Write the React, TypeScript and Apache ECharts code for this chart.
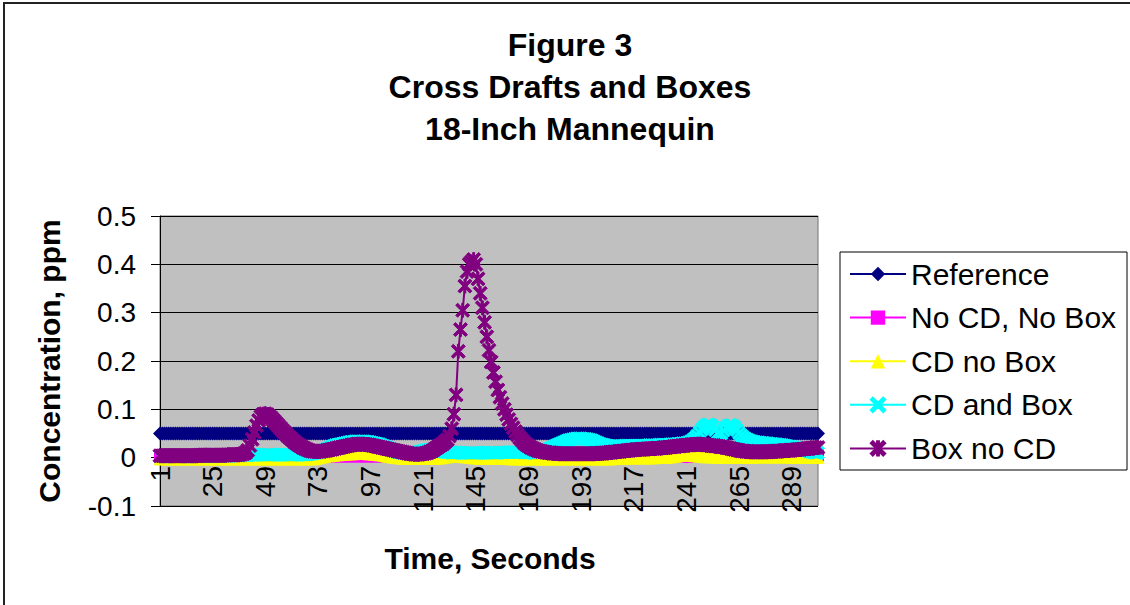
import React, { useEffect, useRef } from "react";
import * as echarts from "echarts";

// Time categories (seconds 1..301)
const categories: string[] = Array.from({ length: 301 }, (_, i) => String(i + 1));

const seriesNames = ["Reference", "No CD, No Box", "CD no Box", "CD and Box", "Box no CD"];
const yTicks = [-0.1, 0, 0.1, 0.2, 0.3, 0.4, 0.5];

const reference: number[] = [
  0.05,0.05,0.05,0.05,0.05,0.05,0.05,0.05,0.05,0.05,
  0.05,0.05,0.05,0.05,0.05,0.05,0.05,0.05,0.05,0.05,
  0.05,0.05,0.05,0.05,0.05,0.05,0.05,0.05,0.05,0.05,
  0.05,0.05,0.05,0.05,0.05,0.05,0.05,0.05,0.05,0.05,
  0.05,0.05,0.05,0.05,0.05,0.05,0.05,0.05,0.05,0.05,
  0.05,0.05,0.05,0.05,0.05,0.05,0.05,0.05,0.05,0.05,
  0.05,0.05,0.05,0.05,0.05,0.05,0.05,0.05,0.05,0.05,
  0.05,0.05,0.05,0.05,0.05,0.05,0.05,0.05,0.05,0.05,
  0.05,0.05,0.05,0.05,0.05,0.05,0.05,0.05,0.05,0.05,
  0.05,0.05,0.05,0.05,0.05,0.05,0.05,0.05,0.05,0.05,
  0.05,0.05,0.05,0.05,0.05,0.05,0.05,0.05,0.05,0.05,
  0.05,0.05,0.05,0.05,0.05,0.05,0.05,0.05,0.05,0.05,
  0.05,0.05,0.05,0.05,0.05,0.05,0.05,0.05,0.05,0.05,
  0.05,0.05,0.05,0.05,0.05,0.05,0.05,0.05,0.05,0.05,
  0.05,0.05,0.05,0.05,0.05,0.05,0.05,0.05,0.05,0.05,
  0.05,0.05,0.05,0.05,0.05,0.05,0.05,0.05,0.05,0.05,
  0.05,0.05,0.05,0.05,0.05,0.05,0.05,0.05,0.05,0.05,
  0.05,0.05,0.05,0.05,0.05,0.05,0.05,0.05,0.05,0.05,
  0.05,0.05,0.05,0.05,0.05,0.05,0.05,0.05,0.05,0.05,
  0.05,0.05,0.05,0.05,0.05,0.05,0.05,0.05,0.05,0.05,
  0.05,0.05,0.05,0.05,0.05,0.05,0.05,0.05,0.05,0.05,
  0.05,0.05,0.05,0.05,0.05,0.05,0.05,0.05,0.05,0.05,
  0.05,0.05,0.05,0.05,0.05,0.05,0.05,0.05,0.05,0.05,
  0.05,0.05,0.05,0.05,0.05,0.05,0.05,0.05,0.05,0.05,
  0.05,0.05,0.05,0.05,0.05,0.05,0.05,0.05,0.05,0.05,
  0.05,0.05,0.05,0.05,0.05,0.05,0.05,0.05,0.05,0.05,
  0.05,0.05,0.05,0.05,0.05,0.05,0.05,0.05,0.05,0.05,
  0.05,0.05,0.05,0.05,0.05,0.05,0.05,0.05,0.05,0.05,
  0.05,0.05,0.05,0.05,0.05,0.05,0.05,0.05,0.05,0.05,
  0.05,0.05,0.05,0.05,0.05,0.05,0.05,0.05,0.05,0.05,
  0.05,
];

const noCdNoBox: number[] = [
  0.002,0.002,0.002,0.002,0.002,0.002,0.002,0.002,0.002,0.002,
  0.002,0.002,0.002,0.002,0.002,0.002,0.002,0.002,0.002,0.002,
  0.002,0.002,0.002,0.002,0.002,0.002,0.002,0.002,0.002,0.002,
  0.002,0.002,0.002,0.002,0.002,0.002,0.002,0.002,0.002,0.002,
  0.002,0.002,0.002,0.002,0.002,0.002,0.002,0.002,0.002,0.002,
  0.002,0.002,0.002,0.002,0.002,0.002,0.002,0.002,0.002,0.002,
  0.002,0.002,0.002,0.002,0.002,0.002,0.002,0.002,0.002,0.002,
  0.002,0.002,0.002,0.002,0.003,0.003,0.003,0.003,0.003,0.003,
  0.003,0.003,0.003,0.003,0.003,0.003,0.003,0.003,0.003,0.003,
  0.003,0.003,0.003,0.003,0.003,0.003,0.003,0.003,0.003,0.003,
  0.003,0.003,0.003,0.003,0.003,0.002,0.002,0.002,0.002,0.002,
  0.002,0.002,0.002,0.002,0.002,0.002,0.002,0.002,0.002,0.002,
  0.002,0.002,0.002,0.002,0.002,0.002,0.002,0.002,0.002,0.002,
  0.002,0.002,0.002,0.002,0.002,0.002,0.002,0.002,0.002,0.002,
  0.002,0.002,0.002,0.002,0.002,0.002,0.002,0.002,0.002,0.002,
  0.002,0.002,0.002,0.002,0.002,0.002,0.002,0.002,0.002,0.002,
  0.002,0.002,0.002,0.002,0.002,0.002,0.002,0.002,0.002,0.002,
  0.002,0.002,0.002,0.002,0.002,0.002,0.002,0.002,0.002,0.002,
  0.002,0.002,0.002,0.002,0.002,0.002,0.002,0.002,0.002,0.002,
  0.002,0.002,0.002,0.002,0.002,0.002,0.002,0.002,0.002,0.002,
  0.002,0.002,0.002,0.002,0.002,0.002,0.002,0.002,0.002,0.002,
  0.002,0.002,0.002,0.002,0.002,0.002,0.002,0.002,0.002,0.002,
  0.002,0.002,0.002,0.002,0.002,0.002,0.002,0.002,0.002,0.002,
  0.002,0.002,0.002,0.002,0.002,0.002,0.002,0.002,0.002,0.002,
  0.002,0.002,0.002,0.002,0.003,0.003,0.003,0.003,0.003,0.003,
  0.003,0.003,0.003,0.003,0.003,0.003,0.003,0.003,0.003,0.003,
  0.003,0.003,0.003,0.003,0.003,0.003,0.003,0.003,0.003,0.003,
  0.003,0.003,0.003,0.003,0.003,0.003,0.003,0.003,0.003,0.003,
  0.003,0.003,0.003,0.003,0.003,0.003,0.003,0.003,0.004,0.004,
  0.004,0.004,0.004,0.004,0.004,0.004,0.005,0.005,0.005,0.005,
  0.005,
];

const cdNoBox: number[] = [
  -0.002,-0.002,-0.002,-0.002,-0.002,-0.002,-0.002,-0.002,-0.002,-0.002,
  -0.002,-0.002,-0.002,-0.002,-0.002,-0.002,-0.002,-0.002,-0.002,-0.002,
  -0.002,-0.002,-0.002,-0.002,-0.002,-0.002,-0.002,-0.002,-0.002,-0.002,
  -0.002,-0.002,-0.002,-0.002,-0.002,-0.002,-0.002,-0.002,-0.002,-0.002,
  -0.002,-0.002,-0.002,-0.002,-0.002,-0.002,-0.002,-0.002,-0.002,-0.002,
  -0.002,-0.002,-0.002,-0.002,-0.002,-0.002,-0.002,-0.002,-0.002,-0.002,
  -0.002,-0.002,-0.002,-0.002,-0.002,-0.002,-0.002,-0.002,-0.002,-0.002,
  -0.002,-0.001,0,0.001,0.002,0.003,0.004,0.004,0.005,0.005,
  0.006,0.006,0.007,0.007,0.007,0.008,0.008,0.008,0.008,0.009,
  0.009,0.009,0.009,0.009,0.009,0.008,0.008,0.008,0.007,0.007,
  0.006,0.006,0.005,0.004,0.003,0.003,0.002,0.001,0.001,0,
  0,-0.001,-0.001,-0.001,-0.001,-0.001,-0.001,-0.001,-0.001,-0.001,
  -0.001,-0.001,-0.001,-0.001,-0.001,-0.001,-0.001,0,0,0.001,
  0.002,0.002,0.003,0.003,0.004,0.004,0.004,0.003,0.003,0.002,
  0.002,0.001,0.001,0,0,0,-0.001,-0.001,-0.001,-0.001,
  -0.001,-0.001,-0.001,-0.001,-0.001,-0.001,-0.001,-0.001,-0.001,-0.001,
  -0.002,-0.002,-0.002,-0.002,-0.002,-0.002,-0.002,-0.002,-0.002,-0.002,
  -0.002,-0.002,-0.002,-0.002,-0.002,-0.002,-0.002,-0.002,-0.002,-0.002,
  -0.002,-0.002,-0.002,-0.002,-0.002,-0.002,-0.002,-0.002,-0.002,-0.002,
  -0.002,-0.002,-0.002,-0.002,-0.002,-0.002,-0.002,-0.002,-0.002,-0.002,
  -0.002,-0.002,-0.002,-0.002,-0.002,-0.002,-0.002,-0.001,-0.001,-0.001,
  -0.001,-0.001,-0.001,0,0,0,0,0,0,0,
  0,0,0,0,0,0,0.001,0.001,0.001,0.001,
  0.001,0.001,0.002,0.002,0.003,0.003,0.004,0.005,0.006,0.006,
  0.006,0.006,0.005,0.005,0.004,0.004,0.003,0.003,0.003,0.002,
  0.002,0.002,0.002,0.002,0.001,0.001,0.001,0.001,0.001,0.001,
  0.001,0.001,0.001,0.001,0.001,0.001,0.001,0.001,0.001,0.001,
  0.001,0.002,0.002,0.002,0.002,0.002,0.002,0.002,0.002,0.002,
  0.002,0.002,0.002,0.002,0.002,0.002,0.002,0.002,0.001,0.001,
  0.001,0.001,0.001,0.001,0.001,0.001,0.001,0.001,0.001,0.001,
  0.001,
];

const cdAndBox: number[] = [
  0.003,0.003,0.003,0.003,0.003,0.003,0.003,0.003,0.003,0.003,
  0.003,0.003,0.003,0.003,0.003,0.003,0.003,0.003,0.003,0.003,
  0.003,0.003,0.003,0.003,0.003,0.003,0.003,0.003,0.004,0.004,
  0.004,0.004,0.004,0.004,0.004,0.004,0.004,0.005,0.005,0.005,
  0.005,0.006,0.006,0.006,0.006,0.006,0.006,0.006,0.006,0.006,
  0.006,0.006,0.006,0.006,0.006,0.006,0.006,0.006,0.006,0.006,
  0.006,0.006,0.006,0.006,0.006,0.006,0.006,0.006,0.007,0.008,
  0.009,0.01,0.011,0.012,0.014,0.016,0.018,0.02,0.022,0.024,
  0.026,0.027,0.028,0.029,0.03,0.031,0.032,0.033,0.033,0.034,
  0.034,0.034,0.034,0.034,0.033,0.033,0.032,0.031,0.03,0.029,
  0.028,0.026,0.024,0.022,0.02,0.018,0.016,0.014,0.012,0.011,
  0.01,0.009,0.009,0.009,0.009,0.01,0.01,0.011,0.012,0.013,
  0.014,0.015,0.016,0.017,0.017,0.017,0.016,0.015,0.014,0.013,
  0.012,0.011,0.011,0.01,0.01,0.01,0.01,0.01,0.01,0.01,
  0.01,0.01,0.01,0.01,0.01,0.01,0.01,0.01,0.01,0.01,
  0.01,0.01,0.01,0.01,0.01,0.011,0.011,0.011,0.011,0.011,
  0.011,0.011,0.011,0.011,0.011,0.011,0.01,0.01,0.01,0.01,
  0.01,0.01,0.011,0.012,0.013,0.014,0.016,0.018,0.02,0.022,
  0.024,0.026,0.028,0.03,0.032,0.034,0.036,0.037,0.038,0.039,
  0.04,0.04,0.04,0.039,0.039,0.038,0.037,0.036,0.034,0.032,
  0.03,0.028,0.027,0.026,0.025,0.024,0.024,0.024,0.024,0.024,
  0.024,0.024,0.025,0.025,0.025,0.025,0.025,0.025,0.025,0.025,
  0.025,0.025,0.025,0.026,0.026,0.026,0.026,0.026,0.027,0.027,
  0.027,0.027,0.027,0.028,0.028,0.028,0.029,0.029,0.03,0.03,
  0.031,0.032,0.034,0.037,0.041,0.046,0.052,0.058,0.063,0.067,
  0.069,0.068,0.064,0.057,0.05,0.047,0.05,0.056,0.062,0.066,
  0.068,0.067,0.063,0.057,0.051,0.046,0.042,0.039,0.037,0.035,
  0.034,0.033,0.032,0.032,0.031,0.031,0.03,0.03,0.029,0.029,
  0.028,0.028,0.027,0.027,0.026,0.025,0.024,0.023,0.022,0.021,
  0.02,0.019,0.018,0.017,0.016,0.015,0.013,0.012,0.011,0.01,
  0.01,
];

const boxNoCd: number[] = [
  0.004,0.004,0.004,0.004,0.004,0.004,0.004,0.004,0.004,0.004,
  0.004,0.004,0.004,0.004,0.004,0.004,0.004,0.004,0.005,0.005,
  0.005,0.005,0.005,0.005,0.005,0.005,0.005,0.005,0.005,0.005,
  0.005,0.006,0.006,0.006,0.006,0.006,0.006,0.007,0.008,0.01,
  0.015,0.025,0.038,0.052,0.066,0.077,0.085,0.09,0.091,0.089,
  0.085,0.081,0.076,0.071,0.066,0.061,0.056,0.051,0.046,0.042,
  0.038,0.034,0.03,0.027,0.024,0.021,0.019,0.017,0.015,0.014,
  0.013,0.013,0.013,0.013,0.014,0.014,0.015,0.016,0.017,0.018,
  0.019,0.02,0.021,0.022,0.023,0.024,0.025,0.026,0.027,0.027,
  0.028,0.028,0.028,0.028,0.027,0.027,0.026,0.025,0.024,0.023,
  0.022,0.021,0.02,0.019,0.018,0.017,0.016,0.015,0.014,0.013,
  0.012,0.011,0.01,0.009,0.008,0.008,0.007,0.007,0.007,0.008,
  0.008,0.009,0.01,0.012,0.014,0.017,0.02,0.023,0.026,0.029,
  0.033,0.037,0.045,0.06,0.09,0.13,0.22,0.265,0.305,0.355,
  0.385,0.4,0.405,0.41,0.4,0.37,0.34,0.31,0.28,0.25,
  0.222,0.198,0.176,0.157,0.14,0.125,0.112,0.1,0.089,0.079,
  0.07,0.062,0.054,0.047,0.041,0.036,0.031,0.027,0.024,0.021,
  0.019,0.017,0.015,0.014,0.013,0.012,0.011,0.01,0.01,0.009,
  0.009,0.009,0.008,0.008,0.008,0.008,0.008,0.008,0.008,0.008,
  0.008,0.008,0.008,0.008,0.008,0.008,0.008,0.008,0.008,0.009,
  0.009,0.009,0.009,0.01,0.01,0.011,0.011,0.012,0.012,0.013,
  0.013,0.014,0.014,0.015,0.015,0.016,0.016,0.017,0.017,0.017,
  0.018,0.018,0.018,0.018,0.019,0.019,0.019,0.02,0.02,0.02,
  0.021,0.021,0.022,0.022,0.023,0.023,0.024,0.024,0.025,0.025,
  0.026,0.026,0.027,0.027,0.027,0.028,0.028,0.027,0.027,0.026,
  0.026,0.025,0.025,0.024,0.024,0.023,0.022,0.022,0.021,0.02,
  0.019,0.018,0.017,0.016,0.015,0.014,0.014,0.013,0.013,0.012,
  0.012,0.012,0.012,0.012,0.012,0.012,0.012,0.012,0.013,0.013,
  0.013,0.013,0.014,0.014,0.014,0.015,0.015,0.015,0.016,0.016,
  0.016,0.017,0.017,0.018,0.018,0.019,0.019,0.02,0.02,0.021,
  0.021,
];

const X_SYMBOL =
  "path://M0,1.4L1.4,0L5,3.6L8.6,0L10,1.4L6.4,5L10,8.6L8.6,10L5,6.4L1.4,10L0,8.6L3.6,5Z";
const STAR_SYMBOL =
  "path://M0,1.4L1.4,0L5,3.6L8.6,0L10,1.4L6.4,5L10,8.6L8.6,10L5,6.4L1.4,10L0,8.6L3.6,5ZM4.35,0L5.65,0L5.65,10L4.35,10Z";

const FONT = "'Liberation Sans', Arial, Helvetica, sans-serif";

export default function App() {
  const ref = useRef<HTMLDivElement>(null);

  useEffect(() => {
    if (!ref.current) return;
    const chart = echarts.init(ref.current, undefined, { renderer: "svg" });

    const mk = (
      name: string,
      data: number[],
      color: string,
      symbol: string,
      size: number,
      border: number
    ) => ({
      type: "line",
      name,
      data,
      symbol,
      symbolSize: size,
      showSymbol: true,
      showAllSymbol: true,
      lineStyle: { color, width: 2 },
      itemStyle: { color, borderColor: color, borderWidth: border },
      emphasis: { disabled: true },
    });

    chart.setOption({
      animation: false,
      backgroundColor: "#ffffff",
      textStyle: { fontFamily: FONT },
      graphic: [
        {
          type: "rect",
          shape: { x: 4, y: 3, width: 1140, height: 620 },
          style: { fill: "none", stroke: "#222", lineWidth: 2 },
          silent: true,
        },
        {
          type: "rect",
          shape: { x: 840, y: 252, width: 287, height: 218 },
          style: { fill: "none", stroke: "#000", lineWidth: 1 },
          silent: true,
        },
        {
          type: "text",
          x: 570,
          y: 24,
          style: {
            text: "Figure 3\nCross Drafts and Boxes\n18-Inch Mannequin",
            font: `bold 32px ${FONT}`,
            fill: "#000",
            align: "center",
            verticalAlign: "top",
            lineHeight: 42,
          },
          silent: true,
        },
        {
          type: "text",
          x: 490,
          y: 558,
          style: {
            text: "Time, Seconds",
            font: `bold 30px ${FONT}`,
            fill: "#000",
            align: "center",
            verticalAlign: "middle",
          },
          silent: true,
        },
      ],
      legend: {
        data: seriesNames,
        orient: "vertical",
        left: 849,
        top: 259,
        padding: 0,
        itemWidth: 56,
        itemHeight: 18,
        itemGap: 13.6,
        textStyle: { fontSize: 30, color: "#000", fontFamily: FONT, lineHeight: 30 },
        selectedMode: false,
      },
      grid: {
        left: 160,
        top: 216,
        width: 658,
        height: 290,
        show: true,
        backgroundColor: "#C0C0C0",
        borderColor: "#707070",
        borderWidth: 1,
        containLabel: false,
        outerBoundsMode: "none",
      },
      xAxis: {
        type: "category",
        data: categories,
        boundaryGap: false,
        offset: -48,
        axisLine: { show: false, onZero: false },
        axisTick: { show: false },
        axisLabel: {
          interval: 23,
          rotate: 90,
          fontSize: 28,
          color: "#000",
          margin: 8,
          fontFamily: FONT,
        },
        splitLine: { show: false },
      },
      yAxis: {
        type: "value",
        min: -0.1,
        max: 0.5,
        interval: 0.1,
        axisLine: { show: true, lineStyle: { color: "#000", width: 1 } },
        axisTick: { show: true, length: 9, inside: false, lineStyle: { color: "#000" } },
        axisLabel: {
          fontSize: 28,
          color: "#000",
          margin: 24,
          fontFamily: FONT,
          formatter: (v: number) => {
            const r = Math.round(v * 10) / 10;
            return yTicks.includes(r) ? String(r) : "";
          },
        },
        splitLine: { show: true, lineStyle: { color: "#000", width: 1 } },
        name: "Concentration, ppm",
        nameLocation: "middle",
        nameRotate: 90,
        nameGap: 96,
        nameMoveOverlap: false,
        nameTextStyle: { fontSize: 30, fontWeight: "bold", color: "#000", fontFamily: FONT },
      },
      series: [
        mk("Reference", reference, "#000080", "diamond", 14, 0),
        mk("No CD, No Box", noCdNoBox, "#FF00FF", "rect", 12, 0),
        mk("CD no Box", cdNoBox, "#FFFF00", "triangle", 13, 0),
        mk("CD and Box", cdAndBox, "#00FFFF", X_SYMBOL, 13, 1),
        mk("Box no CD", boxNoCd, "#800080", STAR_SYMBOL, 14, 1),
      ],
    });

    return () => chart.dispose();
  }, []);

  return (
    <div
      ref={ref}
      style={{ position: "absolute", left: 0, top: 0, width: 1130, height: 605 }}
    />
  );
}
